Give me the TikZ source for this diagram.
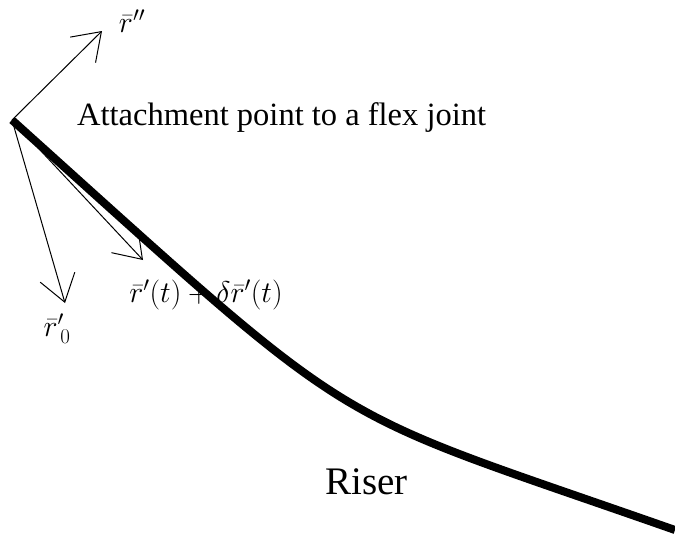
\RequirePackage{fix-cm}
\documentclass[tikz,border=0pt]{standalone}
\usepackage{amsmath}
\usepackage{fontspec}
\setmainfont{Liberation Serif}
\usetikzlibrary{calc, positioning}
\usetikzlibrary{arrows.meta}

\begin{document}
\begin{tikzpicture}[x=1pt,y=-1pt,
  vec/.style={-{Straight Barb[length=26pt,width=36pt]}, line width=1pt},
  lbl/.style={inner sep=0pt, font=\fontsize{30}{32}\selectfont}]
\useasboundingbox (0,0) rectangle (675,539);
\coordinate (A) at (12,120);
\coordinate (Rpp) at (102,31);
\coordinate (Rzero) at (65,303);
\coordinate (Rt) at (143,260);
\coordinate (E) at (675,530);

% riser
\draw[line width=8pt] (A) .. controls (371,443) and (316,404) .. (E);

\draw[vec] (A) -- (Rpp);
\draw[vec] (A) -- (Rzero);
\draw[vec] (A) -- (Rt);

\node[lbl] (rpp) at (132,21) {$\bar{r}''$};
\node[lbl] (rzero) at (57,329) {$\bar{r}'_{\,0}$};
\node[lbl, anchor=base] (rt) at (206,302) {$\bar{r}'(t) + \delta\bar{r}'(t)$};

\node[anchor=base west, inner sep=0pt, font=\fontsize{32.5}{36}\selectfont] (att) at (77,125) {Attachment point to a flex joint};
\node[anchor=base west, inner sep=0pt, font=\fontsize{39}{44}\selectfont] (riser) at (325,494) {Riser};

\end{tikzpicture}
\end{document}
